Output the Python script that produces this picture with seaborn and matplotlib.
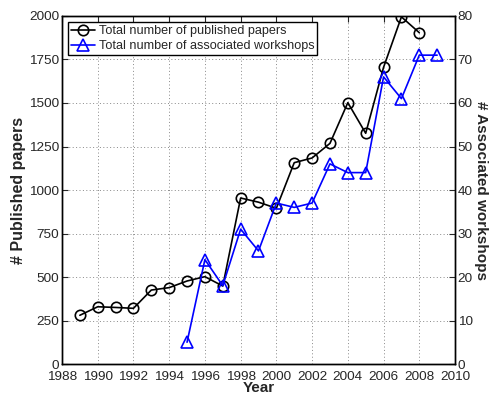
import matplotlib
matplotlib.use("Agg")
import matplotlib.pyplot as plt
import seaborn as sns
import pandas as pd

# Yearly counts
paper_years = [1989, 1990, 1991, 1992, 1993, 1994, 1995, 1996, 1997, 1998,
               1999, 2000, 2001, 2002, 2003, 2004, 2005, 2006, 2007, 2008]
papers = [280, 329, 325, 320, 425, 439, 477, 502, 448, 954,
          930, 895, 1157, 1184, 1268, 1502, 1326, 1705, 1995, 1904]

workshop_years = [1995, 1996, 1997, 1998, 1999, 2000, 2001, 2002, 2003,
                  2004, 2005, 2006, 2007, 2008, 2009]
workshops = [5, 24, 18, 31, 26, 37, 36, 37, 46, 44, 44, 66, 61, 71, 71]

x_ticks = list(range(1988, 2011, 2))
left_ticks = list(range(0, 2001, 250))
right_ticks = list(range(0, 81, 10))

label_papers = "Total number of published papers"
label_workshops = "Total number of associated workshops"

sns.set_style("white")
plt.rcParams["font.family"] = ["Liberation Sans", "DejaVu Sans"]

df_p = pd.DataFrame({"Year": paper_years, "count": papers})
df_w = pd.DataFrame({"Year": workshop_years, "count": workshops})

fig = plt.figure(figsize=(4.9, 3.96), dpi=100)
ax = fig.add_axes([0.1265, 0.0808, 0.8021, 0.8788])
ax2 = ax.twinx()

sns.lineplot(data=df_p, x="Year", y="count", ax=ax, color="black",
             marker="o", markersize=7.5, markerfacecolor="none",
             markeredgecolor="black", markeredgewidth=1.2, linewidth=1.2,
             label=label_papers, legend=False)
sns.lineplot(data=df_w, x="Year", y="count", ax=ax2, color="#0000ff",
             marker="^", markersize=8, markerfacecolor="none",
             markeredgecolor="#0000ff", markeredgewidth=1.2, linewidth=1.2,
             label=label_workshops, legend=False)

ax.set_xlim(1988, 2010)
ax.set_ylim(0, 2000)
ax2.set_ylim(0, 80)
ax.set_xticks(x_ticks)
ax.set_yticks(left_ticks)
ax2.set_yticks(right_ticks)

ax.grid(True, linestyle=(0, (1, 2.5)), color="#888888", linewidth=0.7)
ax.set_axisbelow(True)

ax.tick_params(axis="both", direction="in", length=4, width=0.8,
               labelsize=9.7, top=True)
ax.tick_params(axis="x", pad=4.8)
ax.tick_params(axis="y", right=False, pad=2)
ax2.tick_params(axis="y", direction="in", length=4, width=0.8,
                labelsize=9.7, pad=2)

for a in (ax, ax2):
    for s in a.spines.values():
        s.set_color("black")
        s.set_linewidth(1.0)

ax.set_xlabel("Year", fontsize=11, fontweight="bold", labelpad=-1.5)
ax.set_ylabel("# Published papers", fontsize=11.5, fontweight="bold",
              labelpad=2)
ax2.set_ylabel("# Associated workshops", fontsize=11, fontweight="bold",
               rotation=270, labelpad=1, va="bottom")

h1, l1 = ax.get_legend_handles_labels()
h2, l2 = ax2.get_legend_handles_labels()
leg = ax2.legend(h1 + h2, l1 + l2, loc="upper left", fontsize=9.1,
                 frameon=True, fancybox=False, edgecolor="black",
                 borderaxespad=0.5, borderpad=0.25, labelspacing=0.2,
                 handlelength=1.9, handletextpad=0.25)
leg.get_frame().set_linewidth(1.0)
leg.get_frame().set_alpha(1)

fig.savefig("out.png", dpi=100)
